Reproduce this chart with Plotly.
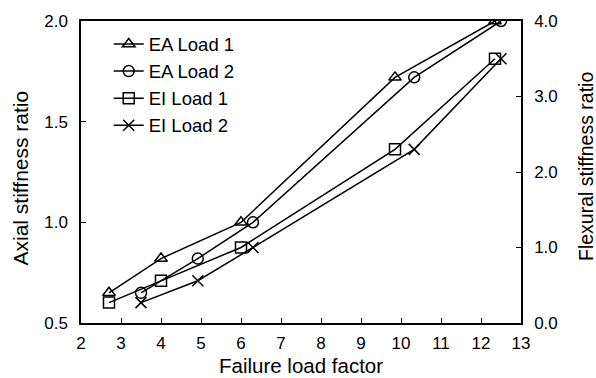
import plotly.graph_objects as go

# Failure load factors for the two load cases
load1_x = [2.7, 4.0, 6.0, 9.85, 12.35]
load2_x = [3.5, 4.92, 6.3, 10.33, 12.5]

# Axial stiffness ratio (left axis)
ea_load1 = [0.65, 0.82, 1.0, 1.72, 2.0]
ea_load2 = [0.65, 0.82, 1.0, 1.72, 2.0]

# Flexural stiffness ratio (right axis)
ei_load1 = [0.27, 0.56, 1.0, 2.30, 3.50]
ei_load2 = [0.27, 0.56, 1.0, 2.30, 3.50]

FONT = "Liberation Sans, Arial, sans-serif"
line = dict(color="black", width=1.5)

fig = go.Figure()
series = [
    ("EA Load 1", load1_x, ea_load1, "triangle-up-open", "y"),
    ("EA Load 2", load2_x, ea_load2, "circle-open", "y"),
    ("EI Load 1", load1_x, ei_load1, "square-open", "y2"),
    ("EI Load 2", load2_x, ei_load2, "x-thin-open", "y2"),
]
for i, (name, xs, ys, sym, ax) in enumerate(series):
    fig.add_trace(go.Scatter(
        x=xs, y=ys, name=name, yaxis=ax, mode="lines+markers",
        line=line,
        marker=dict(symbol=sym, size=11, color="black",
                    line=dict(color="black", width=1.5)),
        legendgroup=f"g{i}",
    ))

# Plot area in pixels: x 81..521, y 21..323
L, R, T, B = 81, 521, 21, 323


def px(xp):
    return (xp - L) / (R - L)


def py(yp):
    return (B - yp) / (B - T)


titles = [
    dict(text="Failure load factor", x=px(301), y=py(365.5), textangle=0,
         font=dict(size=20.5)),
    dict(text="Axial stiffness ratio", x=px(19.5), y=py(178), textangle=-90,
         font=dict(size=21)),
    dict(text="Flexural stiffness ratio", x=px(586), y=py(167),
         textangle=-90, font=dict(size=19.5)),
]
annotations = [dict(a, xref="paper", yref="paper", xanchor="center",
                    yanchor="middle", borderpad=0, showarrow=False)
               for a in titles]

fig.update_layout(
    width=596, height=378,
    margin=dict(l=L, r=596 - R, t=T, b=378 - B),
    paper_bgcolor="white", plot_bgcolor="white",
    font=dict(family=FONT, size=17, color="black"),
    showlegend=True,
    legend=dict(x=0.063, y=0.985, xanchor="left", yanchor="top",
                bgcolor="rgba(0,0,0,0)", font=dict(size=18.5),
                tracegroupgap=0, itemwidth=30),
    annotations=annotations,
    xaxis=dict(range=[2, 13], dtick=1, tick0=2, ticks="inside", ticklen=5,
               tickcolor="black", showline=True, linecolor="black",
               linewidth=1.5, mirror=True, showgrid=False, zeroline=False,
               ticklabelstandoff=4),
    yaxis=dict(range=[0.5, 2.0], dtick=0.5, tick0=0.5, tickformat=".1f",
               ticks="inside", ticklen=5, tickcolor="black", showline=True,
               linecolor="black", linewidth=1.5, showgrid=False,
               zeroline=False, ticklabelstandoff=8),
    yaxis2=dict(range=[0, 4], dtick=1, tick0=0, tickformat=".1f",
                overlaying="y", side="right", ticks="inside", ticklen=5,
                tickcolor="black", showline=True, linecolor="black",
                linewidth=1.5, showgrid=False, zeroline=False,
                ticklabelstandoff=8),
)

fig.write_html("out.html")
